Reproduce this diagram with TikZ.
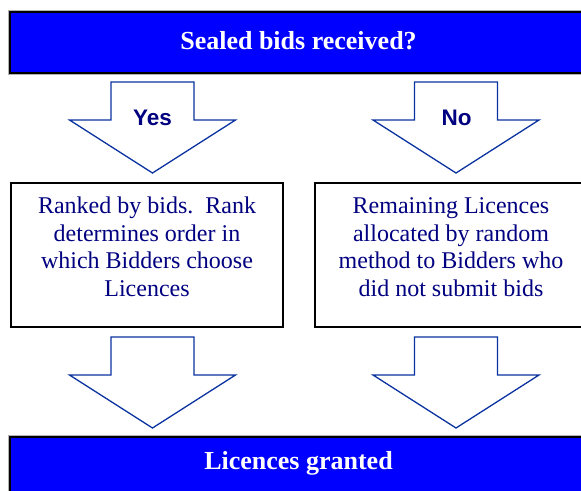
\documentclass[tikz,border=0pt]{standalone}
\usepackage{fontspec}
\setmainfont{Liberation Serif}
\newfontfamily\arialfont{Liberation Sans}
\definecolor{barblue}{RGB}{0,0,255}
\definecolor{arrowline}{RGB}{10,50,160}
\definecolor{navytext}{RGB}{0,0,128}
\tikzset{
  bar/.style={draw=black, line width=1.5pt, fill=barblue,
    preaction={draw=black!30, line width=3.2pt},
    minimum width=577pt, minimum height=61pt, inner sep=0pt},
  bartext/.style={text=white, font=\fontsize{26}{30}\selectfont\bfseries, inner sep=0pt},
  stepbox/.style={draw=black, line width=1.3pt, fill=white,
    preaction={draw=black!25, line width=2.8pt},
    minimum width=272pt, minimum height=144pt, inner sep=0pt},
  boxtext/.style={text=navytext, align=center,
    font=\fontsize{24}{27.5}\selectfont, inner sep=0pt},
  answer/.style={text=navytext, font=\arialfont\fontsize{22.5}{26}\selectfont\bfseries, inner sep=0pt},
  blockarrow/.pic={
    \draw[arrowline, line width=1.3pt, fill=white, line join=miter]
      (-41.5,0) -- (41.5,0) -- (41.5,38) -- (83,38) -- (0,91)
      -- (-83,38) -- (-41.5,38) -- cycle;
  }
}
\begin{document}
\begin{tikzpicture}[x=1pt, y=-1pt]
\useasboundingbox (0,0) rectangle (581,490);
\clip (0,0) rectangle (581,490);

% question bar
\node[bar] (question) at (298.5,42.5) {};
\node[bartext] (questiontext) at (298.5,41) {Sealed bids received?};

% branch arrows
\coordinate (yestop) at (152.5,82);
\coordinate (notop) at (456,82);
\pic at (yestop) {blockarrow};
\pic at (notop) {blockarrow};
\node[answer] (yes) at (152.5,117.5) {Yes};
\node[answer] (no) at (456.5,117.5) {No};

% outcome boxes
\node[stepbox] (ranked) at (147,255) {};
\node[boxtext] (rankedtext) at (147,247) {Ranked by bids.\ \ Rank\\determines order in\\which Bidders choose\\Licences};
\node[stepbox] (random) at (451,255) {};
\node[boxtext] (randomtext) at (451,247) {Remaining Licences\\allocated by random\\method to Bidders who\\did not submit bids};

% arrows into the result bar
\coordinate (yesdown) at (152.5,337);
\coordinate (nodown) at (456,337);
\pic at (yesdown) {blockarrow};
\pic at (nodown) {blockarrow};

% result bar
\node[bar] (granted) at (298.5,467.5) {};
\node[bartext] (grantedtext) at (298.5,463) {Licences granted};
\end{tikzpicture}
\end{document}
